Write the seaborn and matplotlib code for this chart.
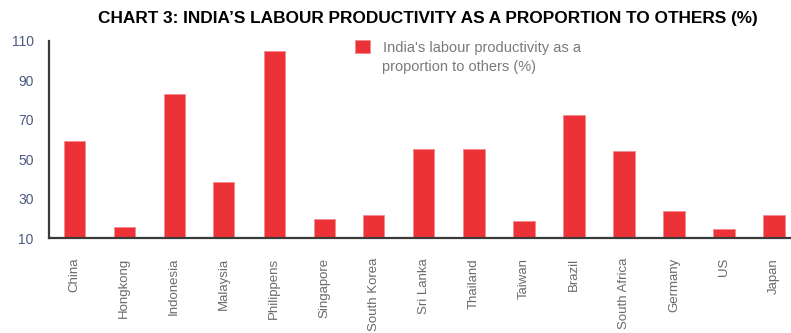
import matplotlib
matplotlib.use("Agg")
import matplotlib.pyplot as plt
import seaborn as sns
import pandas as pd
import numpy as np
from matplotlib.ticker import FixedLocator

countries = ["China", "Hongkong", "Indonesia", "Malaysia", "Philippens", "Singapore",
             "South Korea", "Sri Lanka", "Thailand", "Taiwan", "Brazil", "South Africa",
             "Germany", "US", "Japan"]
values = [59, 15.5, 83, 38.5, 105, 19.5, 21.5, 55, 55, 18.5, 72.5, 54, 23.5, 14.5, 21.5]
yticks = [10, 30, 50, 70, 90, 110]
series_name = "India's labour productivity as a\nproportion to others (%)"
title = "CHART 3: INDIA\u2019S LABOUR PRODUCTIVITY AS A PROPORTION TO OTHERS (%)"

sns.set_style("white")
plt.rcParams['font.family'] = ['Liberation Sans', 'DejaVu Sans']

df = pd.DataFrame({"country": countries, "value": values})

fig = plt.figure(figsize=(7.91, 3.33), dpi=100)
ax = fig.add_axes([49/791, (333-238)/333, 1 - 49/791, (238-41)/333])

red = "#ED3237"
line1, line2 = series_name.split("\n")
sns.barplot(data=df, x="country", y="value", color=red, width=0.42, ax=ax,
            label=line1, edgecolor="#F28A8D", linewidth=0.6, saturation=1)

ax.set_ylim(10, 110)
ax.set_xlim(-0.5, 14.34)
ax.set_yticks(yticks)
ax.set_xlabel("")
ax.set_ylabel("")

for s in ["top", "right"]:
    ax.spines[s].set_visible(False)
for s in ["left", "bottom"]:
    ax.spines[s].set_color("#3a3a3a")
    ax.spines[s].set_linewidth(1.6)

ax.tick_params(axis="y", direction="out", length=7, width=1.4, color="#3a3a3a",
               labelsize=10, labelcolor="#4a5a80", pad=4)
ax.tick_params(axis="x", which="major", length=0, labelsize=9.5, labelcolor="#6a6a6a", pad=14.4)
ax.xaxis.set_minor_locator(FixedLocator(np.arange(0.5, len(countries) - 0.5, 1)))
ax.tick_params(axis="x", which="minor", direction="out", length=7, width=1.4, color="#3a3a3a")
for lbl in ax.get_xticklabels():
    lbl.set_rotation(90)
    lbl.set_va("top")
    lbl.set_ha("center")

leg = ax.legend(loc="upper left", bbox_to_anchor=(355/791, 1 - 40/333), bbox_transform=fig.transFigure,
                frameon=False, fontsize=10.5, handlelength=1.0, handleheight=1.0,
                handletextpad=0.9, borderaxespad=0, borderpad=0)
for t in leg.get_texts():
    t.set_color("#7a7a7a")

fig.text(382/791, 1 - 67/333, line2, ha="left", va="center", fontsize=10.5, color="#7a7a7a")

fig.text(428/791, 1 - 18.5/333, title, ha="center", va="center", fontsize=12.4,
         fontweight="bold", color="black")

fig.savefig("out.png", dpi=100)
